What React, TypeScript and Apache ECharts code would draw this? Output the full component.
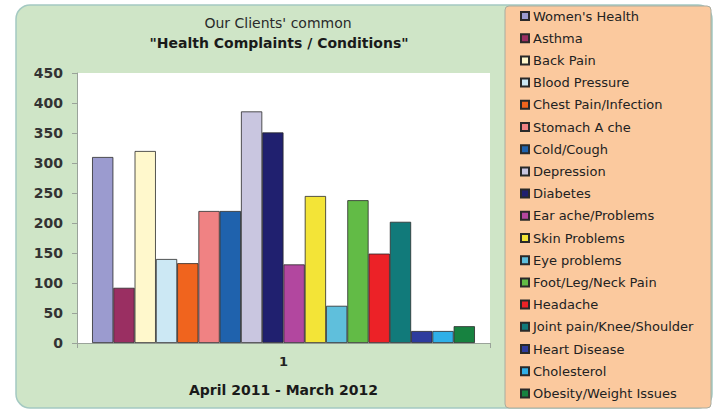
import React, { useEffect, useRef } from "react";
import * as echarts from "echarts";

const categories = ["1"];
const seriesNames = [
  "Women's Health",
  "Asthma",
  "Back Pain",
  "Blood Pressure",
  "Chest Pain/Infection",
  "Stomach A che",
  "Cold/Cough",
  "Depression",
  "Diabetes",
  "Ear ache/Problems",
  "Skin Problems",
  "Eye problems",
  "Foot/Leg/Neck Pain",
  "Headache",
  "Joint pain/Knee/Shoulder",
  "Heart Disease",
  "Cholesterol",
  "Obesity/Weight Issues",
];
const seriesValues = [310, 92, 320, 140, 133, 220, 220, 386, 351, 131, 245, 62, 238, 149, 202, 20, 20, 28];
const seriesColors = [
  "#9b9bcf", "#9a2f62", "#fff8cc", "#cce8f4", "#f0641e", "#f08283",
  "#1f62ad", "#c9c6e0", "#20206f", "#b2479f", "#f3e437", "#5fbfdc",
  "#62bb46", "#ec2227", "#117a7a", "#2e3c9e", "#2fb0e8", "#178240",
];
const yTicks = { min: 0, max: 450, interval: 50 };
const titleLine1 = "Our Clients' common";
const titleLine2 = "\"Health Complaints / Conditions\"";
const xAxisTitle = "April 2011 - March 2012";

export default function App() {
  const ref = useRef<HTMLDivElement>(null);
  useEffect(() => {
    if (!ref.current) return;
    const chart = echarts.init(ref.current, null, { renderer: "svg" });
    const font = "DejaVu Sans, Liberation Sans, Arial, sans-serif";
    chart.setOption({
      animation: false,
      backgroundColor: "#ffffff",
      textStyle: { fontFamily: font },
      graphic: [
        {
          type: "rect",
          z: -10,
          shape: { x: 16, y: 5, width: 696, height: 403, r: 14 },
          style: { fill: "#cfe5c7", stroke: "#a4c9c2", lineWidth: 1.5 },
        },
        {
          type: "rect",
          z: -9,
          shape: { x: 505, y: 6, width: 206, height: 402, r: 4 },
          style: { fill: "#fbc99e", stroke: "#a8aca0", lineWidth: 1 },
        },
      ],
      title: [
        {
          text: titleLine1,
          left: 273,
          top: 11,
          textAlign: "center",
          textStyle: { fontSize: 14, fontWeight: "normal", color: "#2a2a2a", fontFamily: font },
        },
        {
          text: titleLine2,
          left: 274,
          top: 31,
          textAlign: "center",
          textStyle: { fontSize: 14, fontWeight: "bold", color: "#1a1a1a", fontFamily: font },
        },
      ],
      legend: {
        orient: "vertical",
        left: 515,
        top: 4,
        itemWidth: 8,
        itemHeight: 8,
        itemGap: 8.2,
        icon: "rect",
        textStyle: { fontSize: 13, lineHeight: 14, color: "#222", fontFamily: font, padding: [0, 0, 0, -1] },
        data: seriesNames,
      },
      grid: {
        left: 77,
        top: 73,
        width: 413,
        height: 270,
        show: true,
        backgroundColor: "#ffffff",
        borderWidth: 0,
      },
      xAxis: {
        type: "category",
        data: categories,
        name: xAxisTitle,
        nameLocation: "middle",
        nameGap: 40,
        nameTextStyle: { fontSize: 14, fontWeight: "bold", color: "#1a1a1a" },
        axisLine: { lineStyle: { color: "#9aa39a" } },
        axisTick: { show: true, inside: false, length: 5, lineStyle: { color: "#9aa39a" } },
        axisLabel: { fontSize: 13, fontWeight: "bold", color: "#222", margin: 12 },
      },
      yAxis: {
        type: "value",
        min: yTicks.min,
        max: yTicks.max,
        interval: yTicks.interval,
        axisLine: { show: true, lineStyle: { color: "#9aa39a" } },
        axisTick: { show: true, length: 5, lineStyle: { color: "#9aa39a" } },
        axisLabel: { fontSize: 14, fontWeight: "bold", color: "#333", margin: 14 },
        splitLine: { show: false },
      },
      series: seriesNames.map((name, i) => ({
        name,
        type: "bar",
        data: [seriesValues[i]],
        barGap: "0%",
        barCategoryGap: "7.3%",
        itemStyle: { color: seriesColors[i], borderColor: "#2a2a2a", borderWidth: 0.8 },
      })),
    });
    return () => chart.dispose();
  }, []);
  return (
    <div
      ref={ref}
      style={{ position: "fixed", left: 0, top: 0, width: 717, height: 412 }}
    />
  );
}
